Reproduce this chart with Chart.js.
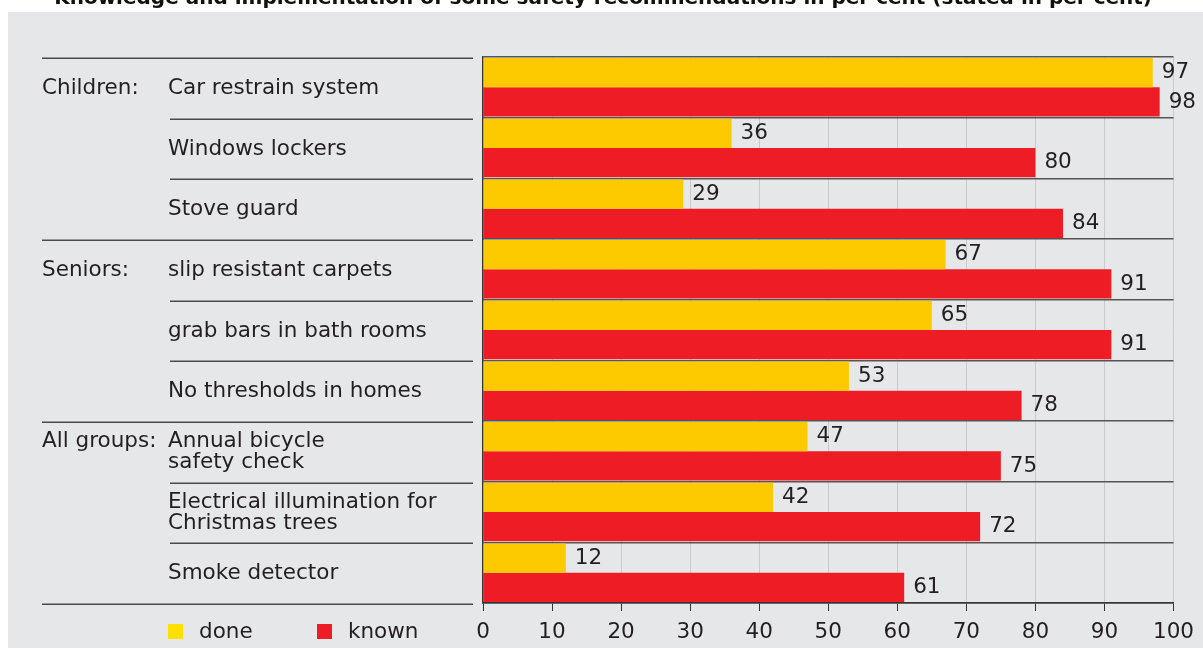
<!DOCTYPE html>
<html>
<head>
<meta charset="utf-8">
<script src="https://cdn.jsdelivr.net/npm/chart.js@4/dist/chart.umd.min.js"></script>
<style>
  html, body { margin: 0; padding: 0; background: #ffffff; }
  #wrap { width: 1203px; height: 648px; position: relative; }
</style>
</head>
<body>
<div id="wrap"><canvas id="c" width="1203" height="648"></canvas></div>
<script>
// ---- data ----
const titleText = 'Knowledge and implementation of some safety recommendations in per cent (stated in per cent)';
const categories = [
  ['Car restrain system'],
  ['Windows lockers'],
  ['Stove guard'],
  ['slip resistant carpets'],
  ['grab bars in bath rooms'],
  ['No thresholds in homes'],
  ['Annual bicycle', 'safety check'],
  ['Electrical illumination for', 'Christmas trees'],
  ['Smoke detector']
];
const groupLabels = ['Children:', 'Seniors:', 'All groups:'];
const groupStarts = [0, 3, 6];
const doneValues  = [97, 36, 29, 67, 65, 53, 47, 42, 12];
const knownValues = [98, 80, 84, 91, 91, 78, 75, 72, 61];
const seriesNames = ['done', 'known'];
const xTicks = [0, 10, 20, 30, 40, 50, 60, 70, 80, 90, 100];

const FONT = '"DejaVu Sans", Verdana, sans-serif';
const FS = 21.5;
const TEXT = '#231f20';
const YELLOW = '#fdca00';
const RED = '#ee1c25';

const decor = {
  id: 'decor',
  beforeDraw(chart) {
    const ctx = chart.ctx;
    ctx.save();
    ctx.fillStyle = '#ffffff';
    ctx.fillRect(0, 0, chart.width, chart.height);
    ctx.fillStyle = '#e6e7e8';
    ctx.fillRect(8, 12, chart.width - 8, chart.height - 12);
    // title (cut off at the top)
    ctx.fillStyle = '#111';
    ctx.font = 'bold 20px ' + FONT;
    ctx.textAlign = 'right';
    ctx.textBaseline = 'alphabetic';
    ctx.fillText(titleText, 1152, 4);
    ctx.restore();
  },
  afterDraw(chart) {
    const ctx = chart.ctx;
    const y = chart.scales.y;
    const step = y.getPixelForValue(1) - y.getPixelForValue(0);
    const boundary = i => y.getPixelForValue(i) - step / 2;
    ctx.save();
    // separator lines in label area
    ctx.strokeStyle = '#4a4a4a';
    ctx.lineWidth = 1.5;
    for (let i = 0; i <= categories.length; i++) {
      const isGroup = groupStarts.includes(i) || i === categories.length;
      const yy = Math.round(boundary(i) + 1) + 0.25;
      ctx.beginPath();
      ctx.moveTo(isGroup ? 42 : 170, yy);
      ctx.lineTo(473, yy);
      ctx.stroke();
    }
    // labels
    ctx.fillStyle = TEXT;
    ctx.font = FS + 'px ' + FONT;
    ctx.textAlign = 'left';
    ctx.textBaseline = 'middle';
    const lh = 21;
    categories.forEach((lines, i) => {
      const cy = y.getPixelForValue(i) + 1;
      const y0 = cy - (lines.length - 1) * lh / 2;
      lines.forEach((t, k) => ctx.fillText(t, 168, y0 + k * lh));
      const gi = groupStarts.indexOf(i);
      if (gi >= 0) ctx.fillText(groupLabels[gi], 42, y0);
    });
    // legend
    const legendSwatch = ['#ffdf00', RED];
    const lx = [168, 317];
    seriesNames.forEach((n, k) => {
      ctx.fillStyle = legendSwatch[k];
      ctx.fillRect(lx[k], 624, 15, 15);
      ctx.fillStyle = TEXT;
      ctx.fillText(n, lx[k] + 31, 632);
    });
    // value labels
    chart.data.datasets.forEach((ds, di) => {
      chart.getDatasetMeta(di).data.forEach((bar, i) => {
        ctx.fillText(String(ds.data[i]), bar.x + 9, bar.y);
      });
    });
    ctx.restore();
  }
};

new Chart(document.getElementById('c'), {
  type: 'bar',
  data: {
    labels: categories.map(c => c.join(' ')),
    datasets: [
      { label: seriesNames[0], data: doneValues, backgroundColor: YELLOW, borderWidth: 0 },
      { label: seriesNames[1], data: knownValues, backgroundColor: RED, borderWidth: 0 }
    ]
  },
  options: {
    indexAxis: 'y',
    responsive: false,
    animation: false,
    devicePixelRatio: 1,
    layout: { padding: { left: 483, top: 57, right: 29, bottom: 0 } },
    datasets: { bar: { categoryPercentage: 0.965, barPercentage: 1 } },
    plugins: { legend: { display: false }, tooltip: { enabled: false }, title: { display: false } },
    scales: {
      x: {
        type: 'linear', min: 0, max: 100,
        afterBuildTicks: s => { s.ticks = xTicks.map(v => ({ value: v })); },
        afterFit: s => { s.height = 45; },
        grid: { color: '#c9cacc', lineWidth: 1, tickColor: '#333', tickLength: 8, drawTicks: true },
        border: { color: '#333', width: 1.5 },
        ticks: { color: TEXT, font: { family: FONT, size: FS }, padding: 9, maxRotation: 0 }
      },
      y: {
        afterFit: s => { s.width = 0; },
        grid: { color: '#555', lineWidth: 1.5, offset: true, drawTicks: false },
        border: { color: '#333', width: 1.5 },
        ticks: { display: false }
      }
    }
  },
  plugins: [decor]
});
</script>
</body>
</html>
